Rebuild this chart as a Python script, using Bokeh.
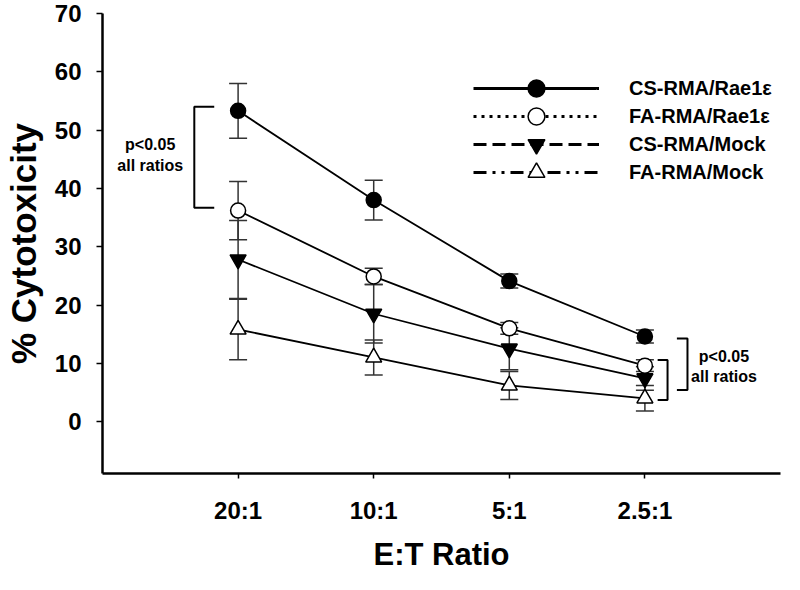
from bokeh.plotting import figure
from bokeh.models import (ColumnDataSource, Whisker, TeeHead, Legend, LegendItem,
                          FixedTicker, Range1d, Label)
from bokeh.embed import file_html
from bokeh.resources import INLINE

# ---------------- data ----------------
ratios = ["20:1", "10:1", "5:1", "2.5:1"]
series_names = ["CS-RMA/Rae1ε", "FA-RMA/Rae1ε", "CS-RMA/Mock", "FA-RMA/Mock"]
cs_rae = [53.3, 38.0, 24.1, 14.6]
cs_rae_err = [4.7, 3.4, 1.2, 1.1]
fa_rae = [36.2, 24.9, 16.0, 9.6]
fa_rae_err = [5.0, 1.4, 1.0, 1.0]
cs_mock = [27.8, 18.5, 12.5, 7.4]
cs_mock_err = [6.7, 5.0, 3.6, 2.0]
fa_mock = [15.8, 11.0, 6.2, 4.0]
fa_mock_err = [5.2, 3.0, 2.4, 2.2]
y_ticks = [0, 10, 20, 30, 40, 50, 60, 70]
sig_text = "p<0.05\nall ratios"

FONT = "Liberation Sans"
x_pos = list(range(1, len(ratios) + 1))

p = figure(width=784, height=574, x_range=Range1d(0, len(ratios) + 1),
           y_range=Range1d(-8.9, 70), output_backend="svg", toolbar_location=None,
           min_border_left=98, min_border_right=4, min_border_top=13,
           min_border_bottom=100)
p.outline_line_color = None
p.grid.visible = False
p.background_fill_color = "white"
p.border_fill_color = "white"

# axes
p.xaxis.ticker = FixedTicker(ticks=x_pos)
p.xaxis.major_label_overrides = {x: r for x, r in zip(x_pos, ratios)}
p.yaxis.ticker = FixedTicker(ticks=y_ticks)
for ax in (p.xaxis, p.yaxis):
    ax.axis_line_width = 2.5
    ax.axis_line_color = "black"
    ax.major_tick_line_color = "black"
    ax.major_tick_line_width = 1.5
    ax.major_tick_in = 0
    ax.minor_tick_line_color = None
    ax.major_label_text_font = FONT
    ax.major_label_text_font_style = "bold"
    ax.major_label_text_font_size = "24px"
    ax.major_label_text_color = "black"
    ax.axis_label_text_font = FONT
    ax.axis_label_text_font_style = "bold"
    ax.axis_label_text_color = "black"
p.yaxis.major_tick_out = 6
p.yaxis.major_label_standoff = 15
p.yaxis.axis_label = "% Cytotoxicity"
p.yaxis.axis_label_text_font_size = "35px"
p.yaxis.axis_label_standoff = 9
p.xaxis.major_tick_out = 5
p.xaxis.major_label_standoff = 18
p.xaxis.axis_label = "E:T Ratio"
p.xaxis.axis_label_text_font_size = "31px"
p.xaxis.axis_label_standoff = 10

series = [
    (cs_rae, cs_rae_err, "circle", "black", "3 0"),
    (fa_rae, fa_rae_err, "circle", "white", "3 5"),
    (cs_mock, cs_mock_err, "inverted_triangle", "black", "13 6"),
    (fa_mock, fa_mock_err, "triangle", "white", "13 6 3 6 3 6"),
]

nan = float("nan")
line_items = []
marker_rs = []
for name, (vals, errs, marker, fill, dash) in zip(series_names, series):
    src = ColumnDataSource(dict(x=x_pos, y=vals,
                                upper=[v + e for v, e in zip(vals, errs)],
                                lower=[v - e for v, e in zip(vals, errs)]))
    wh = Whisker(source=src, base="x", upper="upper", lower="lower",
                 line_color="#333333", line_width=1.5,
                 upper_head=TeeHead(size=18, line_color="#333333", line_width=1.5),
                 lower_head=TeeHead(size=18, line_color="#333333", line_width=1.5))
    p.add_layout(wh)
    p.line("x", "y", source=src, line_color="black", line_width=1.8)
    size = 15 if marker == "circle" else 16
    p.scatter("x", "y", source=src, marker=marker, size=size, fill_color=fill,
              line_color="black", line_width=1.5)
    # legend key samples (dashed styles as in the original key); NaN => not drawn
    key = ColumnDataSource(dict(x=[nan], y=[nan]))
    lr = p.line("x", "y", source=key, line_color="black", line_width=3,
                line_dash=dash)
    sr = p.scatter("x", "y", source=key, marker=marker, size=size,
                   fill_color=fill, line_color="black", line_width=1.5)
    line_items.append(LegendItem(label=name, renderers=[lr]))
    marker_rs.append(sr)

common = dict(padding=0, margin=0, border_line_color=None,
              background_fill_alpha=0, label_text_font=FONT,
              label_text_font_style="bold", label_text_font_size="20px",
              label_text_color="black")

# lines + labels (row pitch 28 px)
p.add_layout(Legend(items=line_items, location=(371, 287), glyph_width=126,
                    glyph_height=28, label_standoff=30, spacing=0,
                    label_height=20, **common))
# markers of the key, drawn on top of the key lines
row_pitch = 28
for i, sr in enumerate(marker_rs):
    p.add_layout(Legend(items=[LegendItem(label=" ", renderers=[sr])],
                        location=(413, 280 + (len(marker_rs) - 1 - i) * row_pitch),
                        glyph_width=42, glyph_height=42, label_standoff=0,
                        label_width=0, spacing=0, label_height=20, **common))

# significance brackets (annotations)
p.line([0.824, 0.677, 0.677, 0.824], [54.0, 54.0, 36.7, 36.7],
       line_color="black", line_width=2)
p.line([4.236, 4.314, 4.314, 4.236], [14.26, 14.26, 5.42, 5.42],
       line_color="black", line_width=2)
p.line([4.094, 4.167, 4.167, 4.094], [10.55, 10.55, 3.71, 3.71],
       line_color="black", line_width=2)

for tx, ty in [(0.352, 45.7), (4.583, 9.4)]:
    p.add_layout(Label(x=tx, y=ty, text=sig_text, text_align="center",
                       text_baseline="middle", text_font=FONT,
                       text_font_style="bold", text_font_size="16px",
                       text_color="black", text_line_height=1.2))

open("out.html", "w").write(file_html(p, INLINE))
